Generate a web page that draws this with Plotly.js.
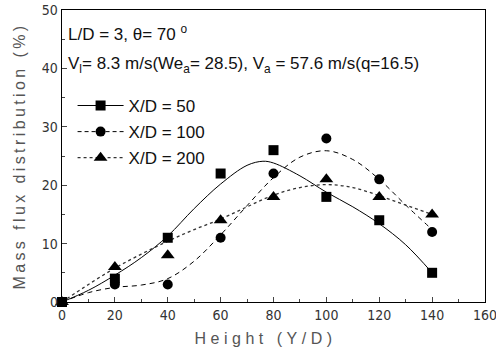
<!DOCTYPE html>
<html><head><meta charset="utf-8">
<script src="https://cdn.plot.ly/plotly-3.0.1.min.js"></script>
<style>body{margin:0;background:#fff}#chart{width:496px;height:361px}</style>
</head><body><div id="chart"></div>
<script>
// measured data
const heights = [0, 20, 40, 60, 80, 100, 120, 140];
const xd50 = [0, 4, 11, 22, 26, 18, 14, 5];
const xd100 = [0, 3, 3, 11, 22, 28, 21, 12];
const xd200 = [0, 6, 8, 14, 18, 21, 18, 15];
// fitted curves
const fitX = [0, 10, 20, 30, 40, 50, 60, 70, 76, 80, 90, 100, 110, 120, 130, 140];
const fit50 = [0, 2, 4.6, 7.6, 11.3, 16, 20.2, 23.4, 24.1, 23.8, 21.6, 18.8, 16.3, 13.4, 9.8, 5];
const fit100X = [0, 10, 20, 30, 40, 50, 60, 70, 80, 90, 100, 110, 120, 130, 140];
const fit100 = [0, 1.6, 2.5, 2.9, 4, 7, 11.5, 16.5, 21.3, 24.8, 25.9, 24.4, 21, 16.6, 12.4];
const fit200X = [0, 10, 20, 30, 40, 50, 60, 70, 80, 90, 100, 110, 120, 130, 140];
const fit200 = [0, 3, 5.8, 8.2, 10.4, 12.4, 14.2, 16.3, 18.3, 19.6, 20.1, 19.6, 18.2, 16.6, 15];
const legendNames = ['X/D = 50', 'X/D = 100', 'X/D = 200'];

const blk = '#000';
const traces = [
  {x: fitX, y: fit50, mode: 'lines', line: {color: blk, width: 1, shape: 'spline'}, showlegend: false, hoverinfo: 'skip'},
  {x: fit100X, y: fit100, mode: 'lines', line: {color: blk, width: 1, dash: '5px,4px', shape: 'spline'}, showlegend: false, hoverinfo: 'skip'},
  {x: fit200X, y: fit200, mode: 'lines', line: {color: '#333', width: 1.3, dash: 'dot', shape: 'spline'}, showlegend: false, hoverinfo: 'skip'},
  {x: heights, y: xd50, mode: 'markers', marker: {symbol: 'square', size: 10, color: blk}, showlegend: false, cliponaxis: false},
  {x: heights, y: xd100, mode: 'markers', marker: {symbol: 'circle', size: 10, color: blk}, showlegend: false, cliponaxis: false},
  {x: heights, y: xd200, mode: 'markers', marker: {symbol: 'triangle-up', size: 12, color: blk}, showlegend: false, cliponaxis: false},
  {x: [null], y: [null], name: legendNames[0], legendgroup: 'a', mode: 'lines+markers', line: {color: blk, width: 1}, marker: {symbol: 'square', size: 10, color: blk}},
  {x: [null], y: [null], name: legendNames[1], legendgroup: 'b', mode: 'lines+markers', line: {color: blk, width: 1, dash: '4px,3px'}, marker: {symbol: 'circle', size: 10, color: blk}},
  {x: [null], y: [null], name: legendNames[2], legendgroup: 'c', mode: 'lines+markers', line: {color: '#333', width: 1.3, dash: 'dot'}, marker: {symbol: 'triangle-up', size: 12, color: blk}}
];

const tickFont = {family: '"DejaVu Sans Condensed", "Liberation Sans Narrow", "Liberation Sans", Arial, sans-serif', size: 14, color: '#333'};
const layout = {
  width: 496, height: 361,
  margin: {l: 62, r: 11, t: 10, b: 59},
  paper_bgcolor: '#fff', plot_bgcolor: '#fff',
  font: {family: '"Liberation Sans", Arial, sans-serif', color: '#111'},
  showlegend: true,
  legend: {x: 0.025, y: 0.733, xanchor: 'left', yanchor: 'top', bgcolor: 'rgba(0,0,0,0)',
           traceorder: 'grouped', tracegroupgap: 1, itemwidth: 46, font: {size: 17, color: '#111'}},
  xaxis: {range: [0, 160.001], tick0: 0, dtick: 20, ticks: 'inside', ticklen: 5, tickwidth: 1,
          ticklabeloverflow: 'allow',
          minor: {dtick: 10, ticks: 'inside', ticklen: 3}, showgrid: false, zeroline: false,
          showline: true, linecolor: blk, linewidth: 1.3, mirror: true, tickfont: tickFont,
          title: {text: 'Height (Y/D)', font: {size: 16, color: '#555'}, standoff: 10}},
  yaxis: {range: [0, 50], tick0: 0, dtick: 10, ticks: 'inside', ticklen: 5, tickwidth: 1,
          minor: {dtick: 5, ticks: 'inside', ticklen: 3}, showgrid: false, zeroline: false,
          showline: true, linecolor: blk, linewidth: 1.3, mirror: true, tickfont: tickFont,
          title: {text: 'Mass flux distribution (%)', font: {size: 16, color: '#555'}, standoff: 12}},
  annotations: [
    {xref: 'paper', yref: 'paper', x: 0.01, y: 0.922, xanchor: 'left', yanchor: 'middle', showarrow: false,
     text: 'L/D = 3, θ= 70 <sup>o</sup>', font: {size: 17, color: '#111'}},
    {xref: 'paper', yref: 'paper', x: 0.01, y: 0.81, xanchor: 'left', yanchor: 'middle', showarrow: false,
     text: 'V<sub>l</sub>= 8.3 m/s(We<sub>a</sub>= 28.5), V<sub>a</sub> = 57.6 m/s(q=16.5)', font: {size: 17, color: '#111'}}
  ]
};
Plotly.newPlot('chart', traces, layout, {staticPlot: true, displayModeBar: false}).then(function () {
  const xt = document.querySelector('.xtitle');
  if (xt) {
    xt.style.letterSpacing = '4.5px';
    xt.setAttribute('x', parseFloat(xt.getAttribute('x')) - 8);
  }
  const yt = document.querySelector('.ytitle');
  if (yt) yt.style.letterSpacing = '3.4px';
});
</script></body></html>
